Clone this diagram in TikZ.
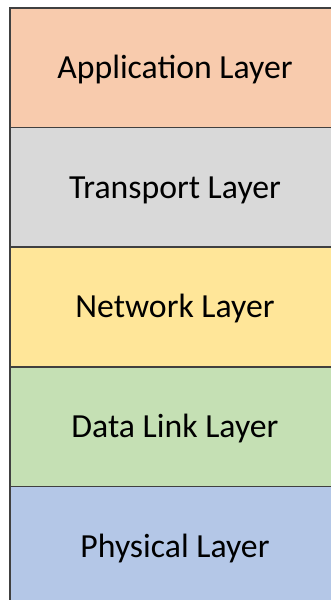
\documentclass[tikz,border=0pt]{standalone}
\usepackage{fontspec}
\setmainfont{Carlito}
\usetikzlibrary{positioning}

\definecolor{appcol}{HTML}{F8CBAD}
\definecolor{transcol}{HTML}{D9D9D9}
\definecolor{netcol}{HTML}{FFE699}
\definecolor{linkcol}{HTML}{C5E0B4}
\definecolor{physcol}{HTML}{B4C7E7}
\definecolor{edgecol}{HTML}{404040}

\begin{document}
\begin{tikzpicture}
\tikzset{LayerStyle/.style = {shape = rectangle,
                              draw = edgecol,
                              line width = 0.85pt,
                              minimum width = 6.6cm,
                              minimum height = 2.392cm,
                              inner sep = 0pt,
                              outer sep = 0pt,
                              text height = 12.4pt,
                              text depth = 0pt,
                              font = \fontsize{19.2}{23}\selectfont}}
\useasboundingbox (0,0) rectangle (6.62,12);
\clip (0,0) rectangle (6.62,12);
\node[LayerStyle, fill = appcol, anchor = north west] (app) at (0.2,11.84) {Application Layer};
\node[LayerStyle, fill = transcol, below = 0pt of app] (trans) {Transport Layer};
\node[LayerStyle, fill = netcol, below = 0pt of trans] (net) {Network Layer};
\node[LayerStyle, fill = linkcol, below = 0pt of net] (link) {Data Link Layer};
\node[LayerStyle, fill = physcol, below = 0pt of link] (phys) {Physical Layer};
\end{tikzpicture}
\end{document}
